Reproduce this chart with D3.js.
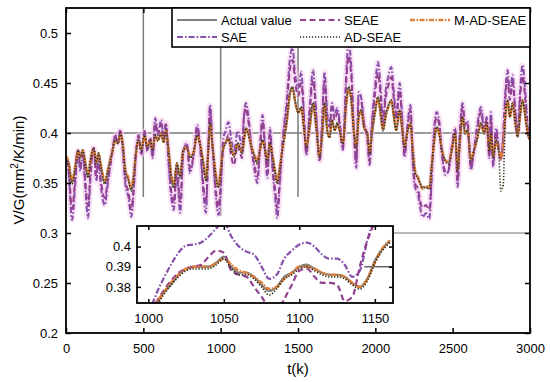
<!DOCTYPE html>
<html><head><meta charset="utf-8">
<script src="https://cdn.jsdelivr.net/npm/d3@7"></script>
<style>body{margin:0;background:#fff}svg{display:block;font-family:"Liberation Sans",Arial,sans-serif}</style>
</head><body>
<svg id="c" width="550" height="382"></svg>
<script>
const tMain = [0,17,39,60,78,92,108,125,142,158,
179,196,210,227,250,271,297,319,336,351,
366,383,405,422,437,452,470,487,508,525,
545,560,577,594,616,631,646,663,681,696,
717,738,758,780,802,823,849,866,888,905,
920,931,948,970,985,1000,1017,1030,1050,1065,
1086,1110,1125,1138,1150,1163,1178,1200,1222,1237,
1254,1271,1287,1302,1319,1336,1353,1366,1383,1405,
1426,1448,1465,1480,1502,1521,1538,1554,1575,1597,
1618,1640,1655,1672,1689,1704,1720,1737,1754,1769,
1790,1812,1827,1845,1862,1877,1892,1909,1927,1948,
1963,1978,2000,2017,2034,2050,2065,2082,2103,2120,
2135,2157,2172,2189,2206,2227,2242,2258,2275,2290,
2306,2327,2349,2366,2381,2396,2413,2430,2452,2473,
2495,2516,2532,2546,2564,2581,2596,2618,2639,2661,
2683,2704,2720,2737,2747,2762,2780,2797,2812,2827,
2840,2855,2870,2887,2905,2920,2935,2952,2970,2985,
3000];
const actualValue = [.376,.370,.350,.366,.383,.376,.383,.370,.356,.373,
.385,.370,.380,.366,.350,.363,.380,.393,.390,.400,
.390,.363,.353,.343,.356,.380,.393,.383,.398,.386,
.393,.383,.398,.393,.400,.391,.403,.383,.356,.346,
.370,.356,.383,.386,.376,.380,.398,.390,.370,.353,
.383,.410,.386,.356,.346,.362,.385,.390,.395,.387,
.377,.390,.385,.380,.392,.405,.400,.386,.376,.370,
.383,.393,.383,.373,.390,.376,.360,.350,.366,.390,
.410,.440,.446,.433,.420,.426,.406,.386,.406,.430,
.406,.376,.396,.430,.403,.396,.413,.403,.410,.403,
.390,.430,.446,.433,.400,.386,.416,.423,.406,.400,
.380,.400,.423,.436,.420,.403,.416,.426,.433,.416,
.403,.423,.406,.386,.400,.410,.383,.360,.356,.350,
.346,.346,.345,.370,.393,.406,.400,.383,.373,.370,
.383,.400,.363,.390,.416,.400,.403,.373,.383,.396,
.410,.400,.410,.383,.400,.376,.393,.383,.373,.390,
.416,.433,.416,.430,.410,.396,.416,.433,.416,.400,
.393];
const sae = [.372,.360,.313,.350,.382,.362,.380,.345,.315,.355,
.385,.352,.372,.345,.328,.350,.378,.398,.390,.403,
.385,.350,.335,.316,.340,.378,.398,.378,.402,.382,
.395,.375,.415,.400,.413,.395,.410,.370,.335,.323,
.360,.320,.378,.390,.360,.375,.408,.388,.340,.320,
.385,.428,.385,.335,.318,.340,.395,.401,.411,.398,
.382,.402,.394,.383,.415,.430,.418,.385,.360,.350,
.385,.418,.385,.355,.405,.362,.335,.315,.350,.400,
.430,.475,.485,.460,.445,.461,.420,.378,.425,.463,
.420,.372,.410,.461,.420,.410,.430,.418,.425,.412,
.383,.460,.490,.465,.400,.365,.441,.435,.410,.395,
.368,.410,.450,.471,.445,.410,.440,.455,.466,.440,
.418,.450,.420,.376,.405,.428,.370,.345,.340,.325,
.316,.320,.314,.360,.405,.421,.412,.380,.358,.362,
.388,.405,.346,.398,.430,.408,.412,.363,.385,.410,
.426,.405,.416,.375,.421,.366,.405,.388,.375,.400,
.440,.463,.440,.458,.425,.400,.440,.468,.440,.408,
.395];
const seae = [.373,.363,.324,.355,.382,.366,.381,.352,.327,.360,
.385,.357,.374,.351,.335,.354,.379,.397,.390,.402,
.386,.354,.340,.324,.345,.379,.397,.380,.401,.383,
.394,.377,.410,.398,.409,.394,.408,.374,.341,.330,
.363,.331,.380,.389,.365,.376,.405,.389,.349,.330,
.384,.423,.385,.341,.326,.347,.390,.390,.398,.380,
.368,.388,.381,.375,.415,.425,.413,.385,.365,.356,
.384,.411,.384,.360,.400,.366,.342,.325,.355,.397,
.424,.464,.473,.452,.437,.450,.416,.380,.419,.453,
.416,.373,.406,.452,.415,.406,.425,.413,.420,.409,
.385,.451,.477,.455,.400,.371,.433,.431,.409,.396,
.372,.407,.442,.460,.437,.408,.433,.446,.456,.433,
.413,.442,.416,.379,.403,.423,.374,.349,.345,.332,
.325,.328,.323,.363,.401,.416,.408,.381,.362,.364,
.386,.403,.351,.396,.426,.406,.409,.366,.384,.406,
.421,.403,.414,.377,.415,.369,.401,.386,.374,.397,
.433,.454,.433,.450,.420,.399,.433,.457,.433,.406,
.394];
const madSeae = [.377,.371,.352,.367,.382,.376,.382,.371,.358,.373,
.384,.371,.379,.367,.352,.364,.380,.392,.390,.399,
.390,.364,.355,.345,.357,.379,.392,.384,.397,.387,
.392,.384,.397,.393,.399,.391,.402,.384,.358,.348,
.369,.358,.382,.386,.377,.380,.397,.390,.371,.355,
.382,.408,.386,.358,.348,.363,.385,.390,.394,.387,
.378,.389,.385,.381,.391,.404,.400,.386,.377,.371,
.383,.392,.383,.374,.389,.377,.362,.352,.367,.389,
.409,.438,.444,.432,.420,.425,.406,.387,.405,.428,
.406,.377,.396,.428,.403,.396,.412,.403,.409,.403,
.390,.428,.444,.432,.400,.387,.415,.422,.406,.400,
.381,.400,.422,.434,.419,.403,.415,.425,.432,.416,
.403,.422,.406,.387,.400,.409,.384,.362,.356,.349,
.344,.347,.346,.370,.392,.405,.400,.384,.373,.371,
.383,.399,.364,.390,.415,.400,.403,.374,.383,.396,
.409,.400,.409,.384,.399,.377,.392,.384,.374,.390,
.415,.432,.416,.429,.410,.397,.415,.432,.416,.400,
.393];
const adSeae = [.375,.369,.349,.365,.383,.375,.383,.369,.355,.372,
.385,.369,.380,.365,.349,.362,.380,.393,.389,.400,
.389,.362,.352,.342,.355,.380,.393,.382,.398,.385,
.393,.382,.398,.392,.400,.390,.403,.382,.355,.345,
.370,.355,.383,.385,.375,.380,.398,.389,.369,.352,
.383,.410,.385,.355,.345,.361,.384,.389,.394,.386,
.376,.390,.384,.379,.392,.405,.399,.385,.375,.369,
.383,.393,.382,.372,.390,.375,.359,.349,.365,.390,
.410,.440,.446,.433,.420,.426,.405,.385,.406,.430,
.405,.375,.396,.430,.402,.395,.413,.402,.410,.402,
.389,.430,.446,.433,.399,.385,.416,.423,.405,.399,
.379,.400,.423,.436,.420,.402,.416,.426,.433,.416,
.402,.423,.405,.385,.400,.410,.382,.359,.355,.349,
.345,.345,.344,.369,.393,.406,.399,.382,.372,.369,
.383,.400,.362,.390,.416,.399,.403,.372,.383,.396,
.410,.399,.410,.382,.400,.375,.393,.382,.342,.348,
.416,.433,.416,.430,.410,.396,.416,.433,.416,.400,
.393];

const tInset = [995,1000,1005,1010,1015,1020,1025,1030,1035,1040,1045,1050,1055,1060,1065,1070,1075,1080,1085,1090,1095,1100,1105,1110,1115,1120,1125,1130,1135,1140,1145,1150,1155,1160];
const insetActual = [.362,.366,.371,.377,.381,.386,.389,.390,.390,.390,.392,.395,.390,.387,.387,.385,.381,.378,.380,.385,.387,.390,.391,.389,.387,.386,.386,.385,.382,.380,.384,.393,.399,.403];
const insetSae = [.355,.366,.376,.384,.391,.397,.4005,.401,.402,.405,.409,.412,.405,.400,.3975,.396,.390,.384,.386,.394,.398,.401,.402,.400,.396,.394,.394,.391,.385,.388,.403,.415,.425,.432];
const insetSeae = [.360,.365,.372,.378,.383,.387,.389,.390,.391,.395,.398,.397,.388,.386,.385,.380,.375,.370,.368,.374,.381,.388,.389,.385,.382,.382,.381,.373,.375,.390,.403,.412,.420,.428];
const insetMad = [.363,.367,.372,.377,.382,.386,.389,.390,.390,.390,.392,.394,.391,.388,.387,.385,.382,.379,.380,.384,.387,.390,.390,.389,.387,.386,.386,.385,.382,.380,.384,.392,.399,.403];
const insetAd = [.361,.365,.370,.376,.381,.385,.388,.389,.389,.389,.391,.394,.389,.386,.386,.384,.380,.376,.379,.384,.386,.389,.390,.388,.386,.385,.385,.384,.381,.379,.383,.392,.398,.402];

const xTicks = [0,500,1000,1500,2000,2500,3000];
const yTicks = [0.2,0.25,0.3,0.35,0.4,0.45,0.5];
const yTickLabels = ["0.2","0.25","0.3","0.35","0.4","0.45","0.5"];
const ixTicks = [1000,1050,1100,1150];
const iyTicks = [0.38,0.39,0.4];
const iyTickLabels = ["0.38","0.39","0.4"];
const seriesNames = ["Actual value","SAE","SEAE","M-AD-SEAE","AD-SEAE"];

const styles = {
  "Actual value": {color:"#808080", dash:null, w:2},
  "SAE": {color:"#8650ad", dash:"6,2,1.6,2", w:2},
  "SEAE": {color:"#93408f", dash:"6,3.5", w:2},
  "M-AD-SEAE": {color:"#e07f3a", dash:"5,1.5,1.5,1.5", w:2.4},
  "AD-SEAE": {color:"#2e2a10", dash:"1.2,1.8", w:1.6}
};

const svg = d3.select("#c");
const L=66,R=530,T=8,B=333;
const x = d3.scaleLinear([0,3000],[L,R]);
const y = d3.scaleLinear([0.2,0.525],[B,T]);

svg.append("defs").append("clipPath").attr("id","mainclip")
  .append("rect").attr("x",L).attr("y",T).attr("width",R-L).attr("height",B-T);

// grid remnants
const g0 = svg.append("g").attr("stroke","#7a7a7a").attr("stroke-width",1.5);
g0.append("line").attr("x1",x(500)).attr("x2",x(500)).attr("y1",T).attr("y2",y(0.336));
g0.append("line").attr("x1",x(1000)).attr("x2",x(1000)).attr("y1",T).attr("y2",y(0.317));
g0.append("line").attr("x1",x(1500)).attr("x2",x(1500)).attr("y1",T).attr("y2",y(0.336));
g0.append("line").attr("x1",L).attr("x2",R).attr("y1",y(0.4)).attr("y2",y(0.4));
g0.append("line").attr("x1",393).attr("x2",R).attr("y1",y(0.3)).attr("y2",y(0.3)).attr("stroke","#a0a0a0");

const mainSeries = {
  "Actual value": actualValue, "SAE": sae, "SEAE": seae, "M-AD-SEAE": madSeae, "AD-SEAE": adSeae
};
const lineMain = d3.line().x(d=>x(d[0])).y(d=>y(d[1])).curve(d3.curveMonotoneX);
const gm = svg.append("g").attr("clip-path","url(#mainclip)");
["SAE","SEAE"].forEach(n=>{
  gm.append("path").attr("d",lineMain(d3.zip(tMain,mainSeries[n])))
    .attr("fill","none").attr("stroke","#f6cdee").attr("stroke-width",6).attr("opacity",0.45);
});
seriesNames.forEach(n=>{
  const s=styles[n];
  gm.append("path").attr("d",lineMain(d3.zip(tMain,mainSeries[n])))
    .attr("fill","none").attr("stroke",s.color).attr("stroke-width",s.w)
    .attr("stroke-dasharray",s.dash).attr("stroke-linejoin","round");
});

// main axes
const ax = svg.append("g").attr("transform",`translate(0,${B})`)
  .call(d3.axisBottom(x).tickValues(xTicks).tickSize(-5).tickPadding(11).tickFormat(d3.format("d")));
const ay = svg.append("g").attr("transform",`translate(${L},0)`)
  .call(d3.axisLeft(y).tickValues(yTicks).tickSize(-5).tickPadding(8).tickFormat((d,i)=>yTickLabels[i]));
const axT = svg.append("g").attr("transform",`translate(0,${T})`)
  .call(d3.axisTop(x).tickValues(xTicks).tickSize(-5).tickFormat(""));
const ayR = svg.append("g").attr("transform",`translate(${R},0)`)
  .call(d3.axisRight(y).tickValues(yTicks).tickSize(-5).tickFormat(""));
[ax,ay,axT,ayR].forEach(g=>{
  g.select(".domain").remove();
  g.selectAll(".tick line").attr("stroke","#000").attr("stroke-width",1.5);
  g.selectAll("text").attr("font-size",13).attr("fill","#000").attr("font-family","Liberation Sans, Arial, sans-serif");
});
svg.append("rect").attr("x",L).attr("y",T).attr("width",R-L).attr("height",B-T)
  .attr("fill","none").attr("stroke","#000").attr("stroke-width",1.8);

// labels
svg.append("text").attr("x",298).attr("y",374).attr("text-anchor","middle")
  .attr("font-size",15).text("t(k)");
const yl = svg.append("text").attr("transform","translate(24,170) rotate(-90)")
  .attr("text-anchor","middle").attr("font-size",15);
yl.append("tspan").text("V/G(mm");
yl.append("tspan").attr("font-size",10).attr("dy",-6).text("2");
yl.append("tspan").attr("dy",6).text("/K/min)");

// legend
const lg = svg.append("g");
lg.append("rect").attr("x",172).attr("y",T).attr("width",R-172).attr("height",39)
  .attr("fill","#fff").attr("stroke","#000").attr("stroke-width",1.6);
const legPos = {
  "Actual value":[177,20], "SAE":[177,37], "SEAE":[300,20], "M-AD-SEAE":[410,20], "AD-SEAE":[300,37]
};
seriesNames.forEach(n=>{
  const [lx,ly]=legPos[n], s=styles[n];
  lg.append("line").attr("x1",lx).attr("x2",lx+40).attr("y1",ly).attr("y2",ly)
    .attr("stroke",s.color).attr("stroke-width",s.w).attr("stroke-dasharray",s.dash);
  lg.append("text").attr("x",lx+44).attr("y",ly).attr("dy","0.36em").attr("font-size",13).text(n);
});

// inset
const IL=137,IR=393,IT=226,IB=303;
const ix = d3.scaleLinear([992.5,1162],[IL,IR]);
const iy = d3.scaleLinear([0.372,0.4102],[IB,IT]);
svg.select("defs").append("clipPath").attr("id","insclip")
  .append("rect").attr("x",IL).attr("y",IT).attr("width",IR-IL).attr("height",IB-IT);
svg.append("rect").attr("x",IL).attr("y",IT).attr("width",IR-IL).attr("height",IB-IT).attr("fill","#fff");
const gi = svg.append("g").attr("clip-path","url(#insclip)");
gi.append("line").attr("x1",ix(1143)).attr("x2",IR).attr("y1",iy(0.39)).attr("y2",iy(0.39))
  .attr("stroke","#666").attr("stroke-width",1.5);
const insetSeries = {
  "Actual value": insetActual, "SAE": insetSae, "SEAE": insetSeae, "M-AD-SEAE": insetMad, "AD-SEAE": insetAd
};
const lineIn = d3.line().x(d=>ix(d[0])).y(d=>iy(d[1])).curve(d3.curveMonotoneX);
seriesNames.forEach(n=>{
  const s=styles[n];
  gi.append("path").attr("d",lineIn(d3.zip(tInset,insetSeries[n])))
    .attr("fill","none").attr("stroke",s.color).attr("stroke-width",s.w+0.2)
    .attr("stroke-dasharray",s.dash);
});
const iax = svg.append("g").attr("transform",`translate(0,${IB})`)
  .call(d3.axisBottom(ix).tickValues(ixTicks).tickSize(-4).tickPadding(11).tickFormat(d3.format("d")));
const iay = svg.append("g").attr("transform",`translate(${IL},0)`)
  .call(d3.axisLeft(iy).tickValues(iyTicks).tickSize(-4).tickPadding(6).tickFormat((d,i)=>iyTickLabels[i]));
const iaxT = svg.append("g").attr("transform",`translate(0,${IT})`)
  .call(d3.axisTop(ix).tickValues(ixTicks).tickSize(-4).tickFormat(""));
const iayR = svg.append("g").attr("transform",`translate(${IR},0)`)
  .call(d3.axisRight(iy).tickValues(iyTicks).tickSize(-4).tickFormat(""));
[iax,iay,iaxT,iayR].forEach(g=>{
  g.select(".domain").remove();
  g.selectAll(".tick line").attr("stroke","#000").attr("stroke-width",1.5);
  g.selectAll("text").attr("font-size",13).attr("fill","#000").attr("font-family","Liberation Sans, Arial, sans-serif");
});
svg.append("rect").attr("x",IL).attr("y",IT).attr("width",IR-IL).attr("height",IB-IT)
  .attr("fill","none").attr("stroke","#000").attr("stroke-width",1.8);
</script>
</body></html>
